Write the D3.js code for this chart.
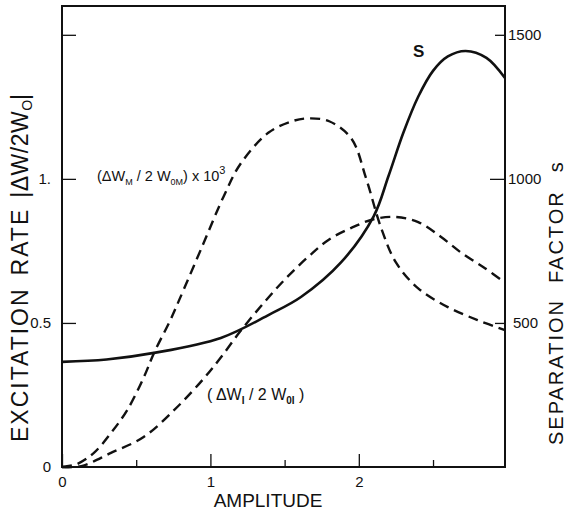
<!DOCTYPE html>
<html>
<head>
<meta charset="utf-8">
<script src="https://cdn.jsdelivr.net/npm/d3@7"></script>
<style>
  body { margin: 0; background: #fff; }
  svg text { font-family: "Liberation Sans", Arial, sans-serif; fill: #111; }
</style>
</head>
<body>
<svg id="chart" width="567" height="515"></svg>
<script>
// amplitude / value pairs
// separation factor s (right axis)
var sAmp = [0, 0.3, 0.62, 1.07, 1.4, 1.61, 1.88, 2.1, 2.2, 2.3, 2.4, 2.5, 2.6, 2.72, 2.86, 2.985];
var sVal = [365, 373, 396, 448, 530, 590, 710, 870, 1010, 1160, 1285, 1375, 1425, 1444, 1420, 1350];

// (dW_M / 2W_0M) x 10^3, left axis
var mAmp = [0, 0.1, 0.215, 0.33, 0.44, 0.55, 0.62, 0.73, 0.79, 0.94, 1.09, 1.2, 1.39, 1.55, 1.66, 1.8, 1.95, 2.05, 2.15, 2.25, 2.4, 2.6, 2.8, 2.985];
var mVal = [0, 0.01, 0.049, 0.118, 0.198, 0.31, 0.396, 0.51, 0.58, 0.76, 0.94, 1.05, 1.16, 1.2, 1.21, 1.2, 1.14, 1.0, 0.83, 0.71, 0.62, 0.555, 0.51, 0.475];

// (dW_I / 2W_0I), left axis
var iAmp = [0, 0.13, 0.33, 0.55, 0.78, 0.96, 1.07, 1.2, 1.36, 1.5, 1.66, 1.8, 1.95, 2.1, 2.25, 2.4, 2.55, 2.7, 2.85, 2.985];
var iVal = [0, 0.003, 0.049, 0.104, 0.21, 0.31, 0.38, 0.47, 0.57, 0.65, 0.73, 0.79, 0.83, 0.86, 0.868, 0.85, 0.8, 0.74, 0.69, 0.64];

// ticks
var xTicks = [0, 0.5, 1, 1.5, 2, 2.5];
var xTickLabels = ["0", "", "1", "", "2", ""];
var yTicks = [0, 0.5, 1, 1.5];
var yTickLabels = ["0", "0.5", "1.", ""];
var sTicks = [500, 1000, 1500];
var sTickLabels = ["500", "1000", "1500"];

var svg = d3.select("#chart");

const plotLeft = 62, plotRight = 505, plotTop = 6, plotBottom = 467;

var xScale = d3.scaleLinear().domain([0, 2.985]).range([plotLeft, plotRight]);
var yScale = d3.scaleLinear().domain([0, 1.6]).range([plotBottom, plotTop]);
var sScale = d3.scaleLinear().domain([0, 1600]).range([plotBottom, plotTop]);

// frame
svg.append("rect")
  .attr("x", plotLeft).attr("y", plotTop)
  .attr("width", plotRight - plotLeft).attr("height", plotBottom - plotTop)
  .attr("fill", "none").attr("stroke", "#111").attr("stroke-width", 2);

// bottom axis, ticks point inward
var bottomAxis = d3.axisBottom(xScale).tickValues(xTicks)
  .tickSize(0).tickFormat((d, i) => xTickLabels[i]);
var gx = svg.append("g").attr("transform", "translate(0," + plotBottom + ")").call(bottomAxis);
gx.select(".domain").remove();
gx.selectAll(".tick line").remove();
gx.selectAll(".tick").append("line")
  .attr("y1", 0).attr("y2", (d) => (d % 1 === 0 ? -13 : -7))
  .attr("stroke", "#111").attr("stroke-width", 1.3);
gx.selectAll(".tick text").attr("y", 9).attr("font-size", 15).attr("fill", "#111")
  .style("font-family", "Liberation Sans, Arial, sans-serif");

// left axis
var leftAxis = d3.axisLeft(yScale).tickValues(yTicks).tickSize(0)
  .tickFormat((d, i) => yTickLabels[i]);
var gy = svg.append("g").attr("transform", "translate(" + plotLeft + ",0)").call(leftAxis);
gy.select(".domain").remove();
gy.selectAll(".tick line").remove();
gy.selectAll(".tick").append("line")
  .attr("x1", 0).attr("x2", (d) => (d === 0 ? 0 : 14)).attr("stroke", "#111").attr("stroke-width", 1.3);
gy.selectAll(".tick text").attr("x", -11).attr("font-size", 15).attr("fill", "#111")
  .style("font-family", "Liberation Sans, Arial, sans-serif");

// right axis (separation factor)
var rightAxis = d3.axisRight(sScale).tickValues(sTicks).tickSize(0)
  .tickFormat((d, i) => sTickLabels[i]);
var gs = svg.append("g").attr("transform", "translate(" + plotRight + ",0)").call(rightAxis);
gs.select(".domain").remove();
gs.selectAll(".tick line").remove();
gs.selectAll(".tick").append("line")
  .attr("x1", 0).attr("x2", (d) => (d === 1000 ? -15 : -10)).attr("stroke", "#111").attr("stroke-width", 1.3);
gs.selectAll(".tick text").attr("x", (d) => (d === 500 ? 8 : 3)).attr("font-size", 15).attr("fill", "#111")
  .style("font-family", "Liberation Sans, Arial, sans-serif");

// curves
var line = d3.line().curve(d3.curveCatmullRom.alpha(0.5));

svg.append("path")
  .datum(mAmp.map((a, i) => [xScale(a), yScale(mVal[i])]))
  .attr("d", line).attr("fill", "none").attr("stroke", "#111")
  .attr("stroke-width", 2.4).attr("stroke-dasharray", "10,6");

svg.append("path")
  .datum(iAmp.map((a, i) => [xScale(a), yScale(iVal[i])]))
  .attr("d", line).attr("fill", "none").attr("stroke", "#111")
  .attr("stroke-width", 2.4).attr("stroke-dasharray", "10,6");

svg.append("path")
  .datum(sAmp.map((a, i) => [xScale(a), sScale(sVal[i])]))
  .attr("d", line).attr("fill", "none").attr("stroke", "#111")
  .attr("stroke-width", 2.6);

// curve labels
var mLabel = svg.append("text").attr("x", 97).attr("y", 181).attr("font-size", 14.5);
mLabel.append("tspan").text("(\u0394W");
mLabel.append("tspan").attr("font-size", 9).attr("dy", 4).text("M");
mLabel.append("tspan").attr("dy", -4).text(" / 2 W");
mLabel.append("tspan").attr("font-size", 9).attr("dy", 4).text("0M");
mLabel.append("tspan").attr("dy", -4).text(") x 10");
mLabel.append("tspan").attr("font-size", 11).attr("dy", -7).text("3");

var iLabel = svg.append("text").attr("x", 207).attr("y", 400).attr("font-size", 16);
iLabel.append("tspan").text("( \u0394W");
iLabel.append("tspan").attr("font-size", 10).attr("font-weight", "bold").attr("dy", 4).text("I");
iLabel.append("tspan").attr("dy", -4).text("  / 2 W");
iLabel.append("tspan").attr("font-size", 10).attr("font-weight", "bold").attr("dy", 4).text("0I");
iLabel.append("tspan").attr("dy", -4).text(" )");

svg.append("text").attr("x", 413).attr("y", 57).attr("font-size", 17)
  .attr("font-weight", "bold").text("S");

// axis titles
svg.append("text").attr("x", 268).attr("y", 507).attr("text-anchor", "middle")
  .attr("font-size", 19).text("AMPLITUDE");

var lt = svg.append("text").attr("transform", "translate(28,442) rotate(-90)")
  .attr("font-size", 23).attr("letter-spacing", 2);
lt.append("tspan").text("EXCITATION");
lt.append("tspan").attr("dx", 12).text("RATE");
lt.append("tspan").attr("dx", 10).attr("letter-spacing", 0.5).text("|\u0394W/2W");
lt.append("tspan").attr("font-size", 14).attr("letter-spacing", 0).attr("dy", 4).text("O");
lt.append("tspan").attr("letter-spacing", 0).attr("dy", -4).text("|");

var rt = svg.append("text").attr("transform", "translate(563,445) rotate(-90)")
  .attr("font-size", 20).attr("letter-spacing", 2);
rt.append("tspan").text("SEPARATION");
rt.append("tspan").attr("dx", 16).text("FACTOR");
rt.append("tspan").attr("dx", 18).text("s");
</script>
</body>
</html>
